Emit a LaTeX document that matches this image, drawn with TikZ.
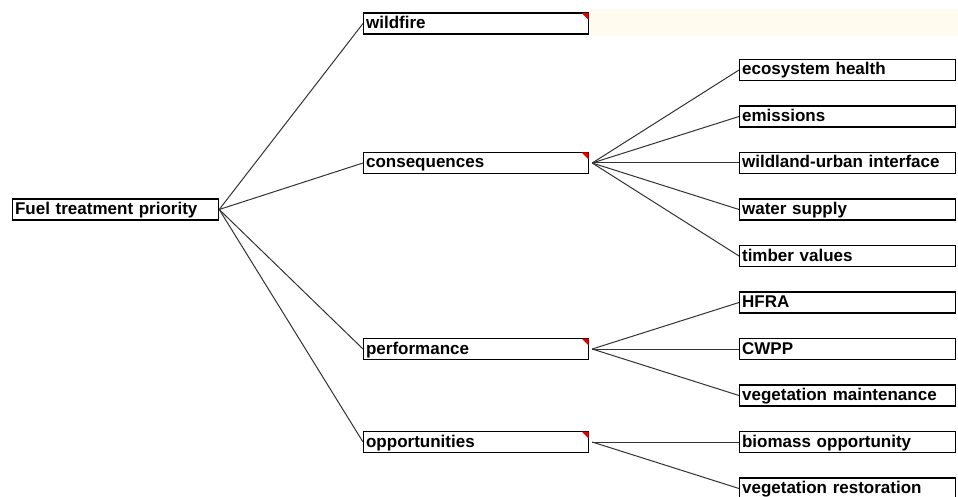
\documentclass[tikz,border=0pt]{standalone}
\usepackage{fontspec}
\setmainfont{Liberation Sans}
\usepackage{tikz}
\pgfdeclarelayer{background}
\pgfdeclarelayer{foreground}
\pgfsetlayers{background,main,foreground}
\definecolor{notecream}{RGB}{255,251,238}
\tikzset{
  box/.style={draw=black, line width=1.2pt, rectangle, anchor=west, minimum height=21pt,
    inner xsep=2.5pt, inner ysep=2.5pt, text height=13pt, text depth=3pt, align=left,
    fill=white, font=\fontsize{17}{17}\selectfont\bfseries},
  rootbox/.style={box, text width=201pt},
  midbox/.style={box, text width=220pt},
  leafbox/.style={box, text width=211pt},
  link/.style={draw=black!80, line width=1pt},
  flag/.style={fill=red!90!black}
}

\begin{document}
\begin{tikzpicture}[x=1pt,y=-1pt]
\clip (0,0) rectangle (958,497);
\begin{pgfonlayer}{background}
\fill[white] (0,0) rectangle (958,497);
\fill[notecream] (590,9) rectangle (958,36);
\end{pgfonlayer}
\node[rootbox] (root) at (12,209.5) {Fuel treatment priority};
\node[midbox] (wf) at (363,23.5) {wildfire};
\node[midbox] (cq) at (363,163) {consequences};
\node[midbox] (pf) at (363,349) {performance};
\node[midbox] (op) at (363,442) {opportunities};
\node[leafbox] (eh) at (739,70) {ecosystem health};
\node[leafbox] (em) at (739,116.5) {emissions};
\node[leafbox] (wui) at (739,163) {wildland-urban interface};
\node[leafbox] (ws) at (739,209.5) {water supply};
\node[leafbox] (tv) at (739,256) {timber values};
\node[leafbox] (hfra) at (739,302.5) {HFRA};
\node[leafbox] (cwpp) at (739,349) {CWPP};
\node[leafbox] (vm) at (739,395.5) {vegetation maintenance};
\node[leafbox] (bo) at (739,442) {biomass opportunity};
\node[leafbox] (vr) at (739,488.5) {vegetation restoration};
\begin{pgfonlayer}{foreground}
\fill[flag] ([xshift=-0.6pt,yshift=-0.6pt]wf.north east) -- ++(-7,0) -- ++(7,7) -- cycle;
\fill[flag] ([xshift=-0.6pt,yshift=-0.6pt]cq.north east) -- ++(-7,0) -- ++(7,7) -- cycle;
\fill[flag] ([xshift=-0.6pt,yshift=-0.6pt]pf.north east) -- ++(-7,0) -- ++(7,7) -- cycle;
\fill[flag] ([xshift=-0.6pt,yshift=-0.6pt]op.north east) -- ++(-7,0) -- ++(7,7) -- cycle;
\end{pgfonlayer}
\begin{pgfonlayer}{background}
\draw[link] (root.east) -- (wf.west);
\draw[link] (root.east) -- (cq.west);
\draw[link] (root.east) -- (pf.west);
\draw[link] (root.east) -- (op.west);
\draw[link] ([xshift=3pt]cq.east) -- (eh.west);
\draw[link] ([xshift=3pt]cq.east) -- (em.west);
\draw[link] ([xshift=3pt]cq.east) -- (wui.west);
\draw[link] ([xshift=3pt]cq.east) -- (ws.west);
\draw[link] ([xshift=3pt]cq.east) -- (tv.west);
\draw[link] ([xshift=3pt]pf.east) -- (hfra.west);
\draw[link] ([xshift=3pt]pf.east) -- (cwpp.west);
\draw[link] ([xshift=3pt]pf.east) -- (vm.west);
\draw[link] ([xshift=3pt]op.east) -- (bo.west);
\draw[link] ([xshift=3pt]op.east) -- (vr.west);
\end{pgfonlayer}
\end{tikzpicture}
\end{document}
